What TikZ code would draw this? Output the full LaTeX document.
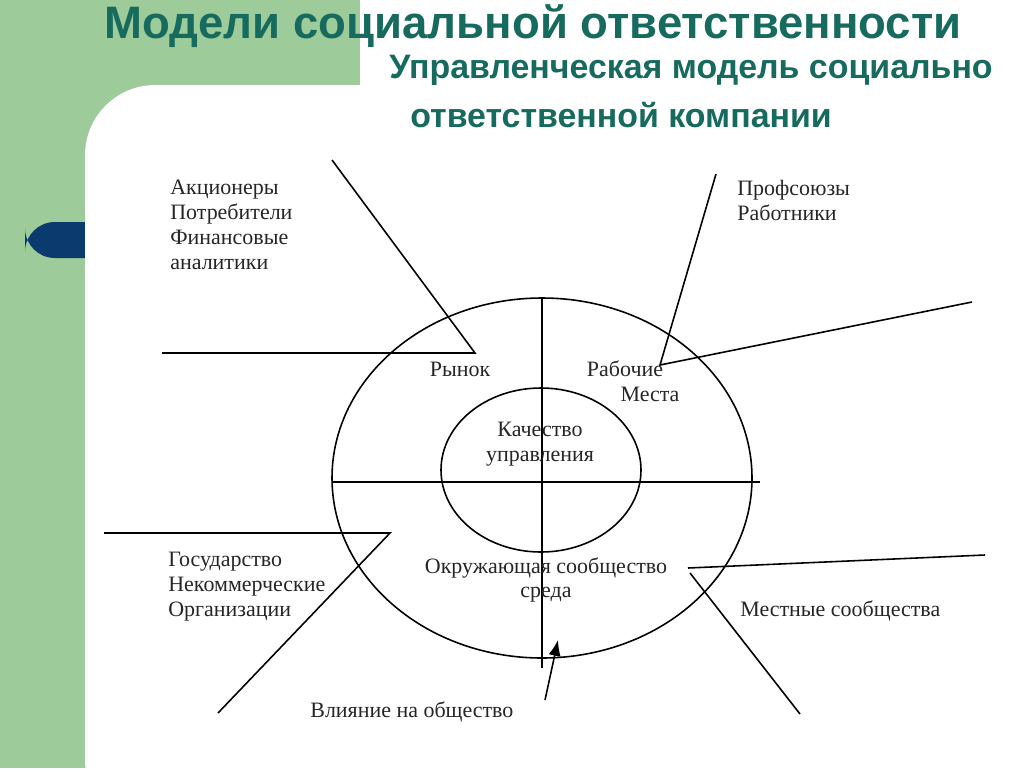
\documentclass[tikz,border=0pt]{standalone}
\usepackage{fontspec}
\setmainfont{Liberation Serif}
\newfontfamily\headfont{Liberation Sans}
\usepackage{tikz}
\usetikzlibrary{arrows.meta}
\definecolor{slidegreen}{HTML}{9DCB9A}
\definecolor{pillblue}{HTML}{0B3A6E}
\definecolor{headteal}{HTML}{176B5E}
\tikzset{
  lbl/.style={font=\fontsize{12.5}{14}\selectfont, text=black!85, inner sep=0pt},
  lst/.style={lbl, align=left, anchor=north west, font=\fontsize{12.5}{14.2}\selectfont},
  ln/.style={line width=0.9pt}
}

\begin{document}
\begin{tikzpicture}[x=0.02cm, y=-0.02cm]
      \useasboundingbox (0,0) rectangle (1024,768);
      \fill[slidegreen] (0,0) rectangle (1024,768);
      \fill[pillblue, rounded corners=17] (25,222) rectangle (120,258);
      \fill[white] (360,0) rectangle (1024,768);
      \fill[white, rounded corners=40] (85,85) rectangle (1080,830);
      \node (title) at (533,26) {\headfont\bfseries\color{headteal}\fontsize{25.9}{30}\selectfont Модели социальной ответственности};
      \node (sub1) at (691,70) {\headfont\bfseries\color{headteal}\fontsize{19.3}{22}\selectfont Управленческая модель социально};
      \node (sub2) at (621,115) {\headfont\bfseries\color{headteal}\fontsize{19.3}{22}\selectfont ответственной компании};
      % circles
      \draw[ln] (542,478) ellipse [x radius=210, y radius=180];
      \draw[ln] (541,470) ellipse [x radius=100, y radius=82];
      \coordinate (hl) at (332,482);
      \coordinate (hr) at (760,482);
      \coordinate (vt) at (542,298);
      \coordinate (vb) at (542,668);
      \draw[ln] (hl) -- (hr);
      \draw[ln] (vt) -- (vb);
      % inner labels
      \node[lbl] (rynok) at (460,369) {Рынок};
      \node[lbl] (rab) at (625,369) {Рабочие};
      \node[lbl] (mesta) at (650,394) {Места};
      \node[lbl, align=center] (kach) at (540,444) {Качество\\управления};
      \node[lbl, align=center] (okr) at (546,580) {Окружающая сообщество\\среда};
      % outer labels
      \node[lst] (akc) at (170,180) {Акционеры\\Потребители\\Финансовые\\аналитики};
      \node[lst] (prof) at (737,180) {Профсоюзы\\Работники};
      \node[lst] (gos) at (168,552) {Государство\\Некоммерческие\\Организации};
      \node[lbl, anchor=west] (mest) at (740,611) {Местные сообщества};
      \node[lbl, anchor=west] (vliy) at (310,712) {Влияние на общество};
      % connectors
      \coordinate (a1) at (332,160);
      \coordinate (a2) at (475,353);
      \coordinate (a3) at (162,353);
      \draw[ln] (a1) -- (a2) -- (a3);
      \coordinate (p1) at (716,174);
      \coordinate (p2) at (660,365);
      \coordinate (p3) at (972,302);
      \draw[ln] (p1) -- (p2) -- (p3);
      \coordinate (g1) at (104,533);
      \coordinate (g2) at (390,533);
      \coordinate (g3) at (218,713);
      \draw[ln] (g1) -- (g2) -- (g3);
      \coordinate (m1) at (688,568);
      \coordinate (m2) at (985,555);
      \coordinate (m3) at (690,573);
      \coordinate (m4) at (800,714);
      \draw[ln] (m1) -- (m2);
      \draw[ln] (m3) -- (m4);
      \coordinate (v1) at (545,700);
      \coordinate (v2) at (558,640);
      \draw[ln, -{Latex[length=9pt,width=7pt]}] (v1) -- (v2);
\end{tikzpicture}
\end{document}
